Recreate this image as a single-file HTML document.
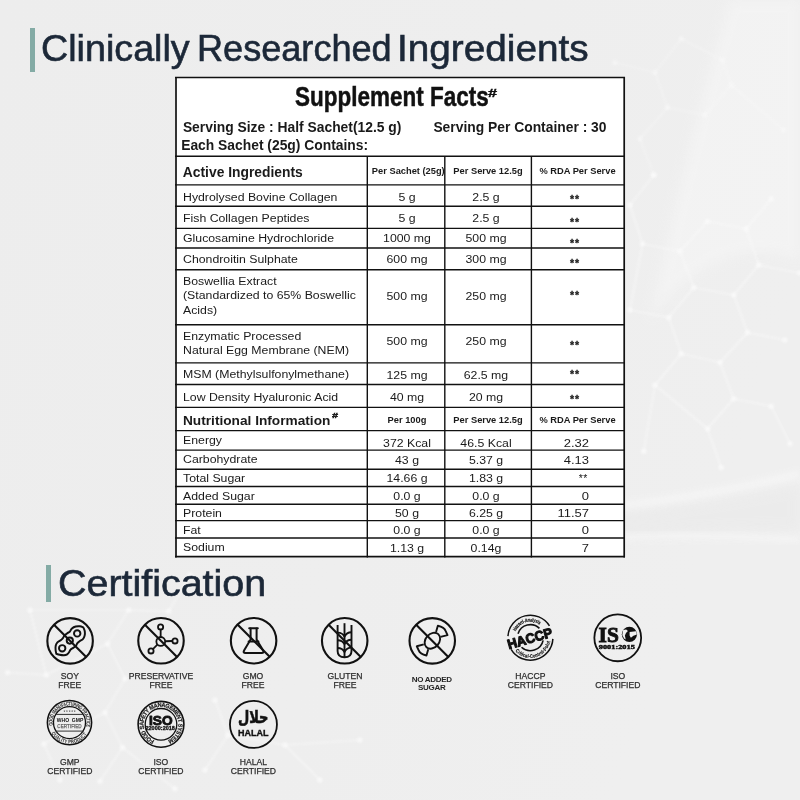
<!DOCTYPE html>
<html><head><meta charset="utf-8"><title>Clinically Researched Ingredients</title>
<style>
html,body{margin:0;padding:0;}
body{width:800px;height:800px;overflow:hidden;position:relative;background:#eeeeee;font-family:"Liberation Sans", Arial, Helvetica, sans-serif;}
.t{position:absolute;white-space:nowrap;line-height:1;}
.t sup{font-size:0.55em;vertical-align:0;position:relative;top:-0.75em;margin-left:1px;}
.l{position:absolute;}
.bar{position:absolute;width:5px;background:#84aba5;}
svg{position:absolute;left:0;top:0;}
</style></head>
<body>
<svg width="800" height="800" viewBox="0 0 800 800" style="position:absolute;left:0;top:0">
<defs><linearGradient id="bgd" x1="0" y1="0" x2="1" y2="0.35"><stop offset="0" stop-color="#ededed"/><stop offset="0.6" stop-color="#eeeeee"/><stop offset="1" stop-color="#efefef"/></linearGradient><filter id="bl" x="-50%" y="-50%" width="200%" height="200%"><feGaussianBlur stdDeviation="0.8"/></filter><filter id="bl3" x="-20%" y="-100%" width="140%" height="300%"><feGaussianBlur stdDeviation="3"/></filter><filter id="bl2" x="-20%" y="-50%" width="140%" height="200%"><feGaussianBlur stdDeviation="6"/></filter></defs>
<rect width="800" height="800" fill="url(#bgd)"/>
<path d="M730 0 L800 0 L800 260 Q720 230 650 320 Q690 130 730 0 Z" fill="#f4f4f4" opacity="0.8" filter="url(#bl2)"/>
<path d="M600 515 Q700 505 800 485 L800 530 Q700 530 600 538 Z" fill="#e9e9e9" opacity="0.6" filter="url(#bl2)"/>
<path d="M600 508 Q700 498 800 474" stroke="#f6f6f6" stroke-width="7" fill="none" opacity="0.9" filter="url(#bl3)"/>
<path d="M600 538 Q700 533 800 540" stroke="#f5f5f5" stroke-width="6" fill="none" opacity="0.9" filter="url(#bl3)"/>
<g stroke="#fafafa" stroke-width="1.2" opacity="0.45" filter="url(#bl)" fill="none"><line x1="681.25" y1="38.75" x2="722.5" y2="60"/><line x1="681.25" y1="38.75" x2="655" y2="72.5"/><line x1="655" y1="72.5" x2="667.5" y2="107.5"/><line x1="667.5" y1="107.5" x2="705" y2="115"/><line x1="667.5" y1="107.5" x2="640" y2="138.75"/><line x1="640" y1="138.75" x2="653.75" y2="175"/><line x1="705" y1="115" x2="731.25" y2="85"/><line x1="731.25" y1="85" x2="722.5" y2="60"/><line x1="731.25" y1="85" x2="783.75" y2="130"/><line x1="655" y1="72.5" x2="615" y2="62.5"/></g>
<g fill="#fbfbfb" opacity="0.45" filter="url(#bl)"><circle cx="681.25" cy="38.75" r="2.6"/><circle cx="722.5" cy="60" r="2.6"/><circle cx="655" cy="72.5" r="2.6"/><circle cx="667.5" cy="107.5" r="2.6"/><circle cx="705" cy="115" r="2.6"/><circle cx="640" cy="138.75" r="2.6"/><circle cx="653.75" cy="175" r="2.6"/><circle cx="731.25" cy="85" r="2.6"/><circle cx="783.75" cy="130" r="2.6"/><circle cx="615" cy="62.5" r="2.6"/></g>
<g stroke="#fafafa" stroke-width="1.2" opacity="0.75" filter="url(#bl)" fill="none"><line x1="653.75" y1="175" x2="630" y2="205"/><line x1="630" y1="205" x2="642.5" y2="243.75"/><line x1="642.5" y1="243.75" x2="680" y2="251.25"/><line x1="680" y1="251.25" x2="707.5" y2="221.25"/><line x1="707.5" y1="221.25" x2="746.25" y2="228.75"/><line x1="746.25" y1="228.75" x2="758.75" y2="265"/><line x1="758.75" y1="265" x2="733.75" y2="295"/><line x1="733.75" y1="295" x2="693.75" y2="287.5"/><line x1="693.75" y1="287.5" x2="680" y2="251.25"/><line x1="693.75" y1="287.5" x2="668.75" y2="317.5"/><line x1="668.75" y1="317.5" x2="630" y2="310"/><line x1="733.75" y1="295" x2="747.5" y2="332.5"/><line x1="747.5" y1="332.5" x2="785" y2="340"/><line x1="758.75" y1="265" x2="800" y2="273"/><line x1="771.25" y1="198.75" x2="746.25" y2="228.75"/><line x1="668.75" y1="317.5" x2="681.25" y2="353.75"/><line x1="747.5" y1="332.5" x2="720" y2="362.5"/><line x1="681.25" y1="353.75" x2="720" y2="362.5"/><line x1="681.25" y1="353.75" x2="655" y2="385"/><line x1="720" y1="362.5" x2="733.75" y2="398.75"/><line x1="733.75" y1="398.75" x2="771.25" y2="406.25"/><line x1="733.75" y1="398.75" x2="707.5" y2="428.75"/><line x1="707.5" y1="428.75" x2="721.25" y2="467.5"/><line x1="655" y1="385" x2="643.75" y2="451.25"/><line x1="771.25" y1="406.25" x2="790" y2="443.75"/><line x1="707.5" y1="428.75" x2="655" y2="385"/><line x1="642.5" y1="243.75" x2="630" y2="310"/><line x1="128.75" y1="610" x2="107.5" y2="643.75"/><line x1="107.5" y1="643.75" x2="125" y2="678.75"/><line x1="125" y1="678.75" x2="105" y2="712.5"/><line x1="105" y1="712.5" x2="122.5" y2="747.5"/><line x1="122.5" y1="747.5" x2="100" y2="781.25"/><line x1="46.25" y1="675" x2="7.5" y2="672.5"/><line x1="128.75" y1="610" x2="168.75" y2="611.25"/><line x1="43.75" y1="743.75" x2="60" y2="780"/><line x1="46.25" y1="675" x2="107.5" y2="643.75"/><line x1="105" y1="712.5" x2="43.75" y2="743.75"/><line x1="122.5" y1="747.5" x2="175" y2="788.75"/><line x1="190" y1="575" x2="168.75" y2="611.25"/><line x1="30" y1="610" x2="46.25" y2="675"/><line x1="30" y1="610" x2="128.75" y2="610"/><line x1="215" y1="700" x2="228" y2="735"/><line x1="228" y1="735" x2="205" y2="770"/><line x1="228" y1="735" x2="285" y2="745"/><line x1="285" y1="745" x2="320" y2="780"/><line x1="285" y1="745" x2="360" y2="740"/></g>
<g fill="#fbfbfb" opacity="0.75" filter="url(#bl)"><circle cx="653.75" cy="175" r="2.6"/><circle cx="630" cy="205" r="2.6"/><circle cx="642.5" cy="243.75" r="2.6"/><circle cx="680" cy="251.25" r="2.6"/><circle cx="707.5" cy="221.25" r="2.6"/><circle cx="746.25" cy="228.75" r="2.6"/><circle cx="758.75" cy="265" r="2.6"/><circle cx="733.75" cy="295" r="2.6"/><circle cx="693.75" cy="287.5" r="2.6"/><circle cx="668.75" cy="317.5" r="2.6"/><circle cx="630" cy="310" r="2.6"/><circle cx="747.5" cy="332.5" r="2.6"/><circle cx="785" cy="340" r="2.6"/><circle cx="800" cy="273" r="2.6"/><circle cx="771.25" cy="198.75" r="2.6"/><circle cx="681.25" cy="353.75" r="2.6"/><circle cx="720" cy="362.5" r="2.6"/><circle cx="655" cy="385" r="2.6"/><circle cx="733.75" cy="398.75" r="2.6"/><circle cx="771.25" cy="406.25" r="2.6"/><circle cx="707.5" cy="428.75" r="2.6"/><circle cx="721.25" cy="467.5" r="2.6"/><circle cx="643.75" cy="451.25" r="2.6"/><circle cx="790" cy="443.75" r="2.6"/><circle cx="128.75" cy="610" r="2.6"/><circle cx="107.5" cy="643.75" r="2.6"/><circle cx="125" cy="678.75" r="2.6"/><circle cx="105" cy="712.5" r="2.6"/><circle cx="122.5" cy="747.5" r="2.6"/><circle cx="100" cy="781.25" r="2.6"/><circle cx="46.25" cy="675" r="2.6"/><circle cx="7.5" cy="672.5" r="2.6"/><circle cx="168.75" cy="611.25" r="2.6"/><circle cx="43.75" cy="743.75" r="2.6"/><circle cx="60" cy="780" r="2.6"/><circle cx="175" cy="788.75" r="2.6"/><circle cx="190" cy="575" r="2.6"/><circle cx="30" cy="610" r="2.6"/><circle cx="215" cy="700" r="2.6"/><circle cx="228" cy="735" r="2.6"/><circle cx="205" cy="770" r="2.6"/><circle cx="285" cy="745" r="2.6"/><circle cx="320" cy="780" r="2.6"/><circle cx="360" cy="740" r="2.6"/></g>
</svg>
<div class="bar" style="left:29.5px;top:28px;height:44px"></div>
<div class="bar" style="left:46.3px;top:565px;height:37px"></div>

<div class="t" style="left:40.90px;top:30.83px;font-size:36px;font-weight:400;color:#1c2838;-webkit-text-stroke:0.6px #1c2838;transform:scaleX(1.047);transform-origin:0 0;">Clinically</div>
<div class="t" style="left:197.20px;top:30.83px;font-size:36px;font-weight:400;color:#1c2838;-webkit-text-stroke:0.6px #1c2838;transform:scaleX(1.003);transform-origin:0 0;">Researched</div>
<div class="t" style="left:396.70px;top:30.83px;font-size:36px;font-weight:400;color:#1c2838;-webkit-text-stroke:0.6px #1c2838;transform:scaleX(1.076);transform-origin:0 0;">Ingredients</div>
<div class="t" style="left:58.00px;top:565.53px;font-size:36px;font-weight:400;color:#1c2838;-webkit-text-stroke:0.6px #1c2838;transform:scaleX(1.095);transform-origin:0 0;">Certification</div>
<div class="l" style="left:175px;top:77px;width:450px;height:480.6px;background:#fff"></div>
<svg width="800" height="800" viewBox="0 0 800 800" style="position:absolute;left:0;top:0"><line x1="175" y1="77.5" x2="625" y2="77.5" stroke="#111" stroke-width="1.7"/><line x1="175" y1="556.7" x2="625" y2="556.7" stroke="#111" stroke-width="1.8"/><line x1="176.0" y1="77" x2="176.0" y2="557.6" stroke="#111" stroke-width="1.7"/><line x1="624.2" y1="77" x2="624.2" y2="557.6" stroke="#111" stroke-width="1.7"/><line x1="175" y1="156.3" x2="625" y2="156.3" stroke="#111" stroke-width="1.4"/><line x1="175" y1="184.85" x2="625" y2="184.85" stroke="#111" stroke-width="1.4"/><line x1="175" y1="206.3" x2="625" y2="206.3" stroke="#111" stroke-width="1.4"/><line x1="175" y1="228.35" x2="625" y2="228.35" stroke="#111" stroke-width="1.4"/><line x1="175" y1="248.0" x2="625" y2="248.0" stroke="#111" stroke-width="1.4"/><line x1="175" y1="269.75" x2="625" y2="269.75" stroke="#111" stroke-width="1.4"/><line x1="175" y1="324.75" x2="625" y2="324.75" stroke="#111" stroke-width="1.4"/><line x1="175" y1="362.85" x2="625" y2="362.85" stroke="#111" stroke-width="1.4"/><line x1="175" y1="384.5" x2="625" y2="384.5" stroke="#111" stroke-width="1.4"/><line x1="175" y1="407.4" x2="625" y2="407.4" stroke="#111" stroke-width="1.4"/><line x1="175" y1="430.65" x2="625" y2="430.65" stroke="#111" stroke-width="1.4"/><line x1="175" y1="450.1" x2="625" y2="450.1" stroke="#111" stroke-width="1.4"/><line x1="175" y1="469.2" x2="625" y2="469.2" stroke="#111" stroke-width="1.4"/><line x1="175" y1="486.5" x2="625" y2="486.5" stroke="#111" stroke-width="1.4"/><line x1="175" y1="504.2" x2="625" y2="504.2" stroke="#111" stroke-width="1.4"/><line x1="175" y1="520.6" x2="625" y2="520.6" stroke="#111" stroke-width="1.4"/><line x1="175" y1="537.95" x2="625" y2="537.95" stroke="#111" stroke-width="1.4"/><line x1="367.3" y1="156" x2="367.3" y2="557.6" stroke="#111" stroke-width="1.4"/><line x1="444.8" y1="156" x2="444.8" y2="557.6" stroke="#111" stroke-width="1.4"/><line x1="531.4" y1="156" x2="531.4" y2="557.6" stroke="#111" stroke-width="1.4"/></svg>
<div class="t" style="left:294.60px;top:82.87px;font-size:27.8px;font-weight:700;color:#111;transform:scaleX(0.809);transform-origin:0 0;-webkit-text-stroke:0.5px #111;">Supplement Facts</div>
<div class="t" style="left:488.30px;top:87.91px;font-size:10.5px;font-weight:700;color:#111;-webkit-text-stroke:0.4px #111;transform:scaleX(1.55);transform-origin:0 0;">#</div>
<div class="t" style="left:182.90px;top:120.88px;font-size:13.85px;font-weight:700;color:#1a1a1a;">Serving Size : Half Sachet(12.5 g)</div>
<div class="t" style="left:433.40px;top:120.88px;font-size:13.85px;font-weight:700;color:#1a1a1a;">Serving Per Container : 30</div>
<div class="t" style="left:181.20px;top:139.08px;font-size:13.85px;font-weight:700;color:#1a1a1a;">Each Sachet (25g) Contains:</div>
<div class="t" style="left:182.80px;top:165.88px;font-size:13.85px;font-weight:700;color:#1a1a1a;">Active Ingredients</div>
<div class="t" style="left:363.30px;width:90px;text-align:center;top:166.53px;font-size:9.3px;font-weight:700;color:#1a1a1a;">Per Sachet (25g)</div>
<div class="t" style="left:443.00px;width:90px;text-align:center;top:166.53px;font-size:9.3px;font-weight:700;color:#1a1a1a;">Per Serve 12.5g</div>
<div class="t" style="left:532.50px;width:90px;text-align:center;top:166.53px;font-size:9.3px;font-weight:700;color:#1a1a1a;">% RDA Per Serve</div>
<div class="t" style="left:183.30px;top:191.20px;font-size:11.7px;font-weight:400;color:#1a1a1a;transform:scaleX(1.052);transform-origin:0 0;">Hydrolysed Bovine Collagen</div>
<div class="t" style="left:367.00px;width:80px;text-align:center;top:191.40px;font-size:11.7px;font-weight:400;color:#1a1a1a;transform:scaleX(1.052);transform-origin:50% 0;">5 g</div>
<div class="t" style="left:446.00px;width:80px;text-align:center;top:191.40px;font-size:11.7px;font-weight:400;color:#1a1a1a;transform:scaleX(1.052);transform-origin:50% 0;">2.5 g</div>
<div class="t" style="left:554.50px;width:40px;text-align:center;top:193.91px;font-size:10.5px;font-weight:700;color:#1a1a1a;-webkit-text-stroke:0.3px #1a1a1a;letter-spacing:0.9px;text-indent:0.9px;">**</div>
<div class="t" style="left:183.30px;top:211.70px;font-size:11.7px;font-weight:400;color:#1a1a1a;transform:scaleX(1.052);transform-origin:0 0;">Fish Collagen Peptides</div>
<div class="t" style="left:367.00px;width:80px;text-align:center;top:212.10px;font-size:11.7px;font-weight:400;color:#1a1a1a;transform:scaleX(1.052);transform-origin:50% 0;">5 g</div>
<div class="t" style="left:446.00px;width:80px;text-align:center;top:212.10px;font-size:11.7px;font-weight:400;color:#1a1a1a;transform:scaleX(1.052);transform-origin:50% 0;">2.5 g</div>
<div class="t" style="left:554.50px;width:40px;text-align:center;top:217.31px;font-size:10.5px;font-weight:700;color:#1a1a1a;-webkit-text-stroke:0.3px #1a1a1a;letter-spacing:0.9px;text-indent:0.9px;">**</div>
<div class="t" style="left:183.30px;top:232.20px;font-size:11.7px;font-weight:400;color:#1a1a1a;transform:scaleX(1.052);transform-origin:0 0;">Glucosamine Hydrochloride</div>
<div class="t" style="left:367.00px;width:80px;text-align:center;top:232.20px;font-size:11.7px;font-weight:400;color:#1a1a1a;transform:scaleX(1.052);transform-origin:50% 0;">1000 mg</div>
<div class="t" style="left:446.00px;width:80px;text-align:center;top:232.20px;font-size:11.7px;font-weight:400;color:#1a1a1a;transform:scaleX(1.052);transform-origin:50% 0;">500 mg</div>
<div class="t" style="left:554.50px;width:40px;text-align:center;top:237.81px;font-size:10.5px;font-weight:700;color:#1a1a1a;-webkit-text-stroke:0.3px #1a1a1a;letter-spacing:0.9px;text-indent:0.9px;">**</div>
<div class="t" style="left:183.30px;top:252.85px;font-size:11.7px;font-weight:400;color:#1a1a1a;transform:scaleX(1.052);transform-origin:0 0;">Chondroitin Sulphate</div>
<div class="t" style="left:367.00px;width:80px;text-align:center;top:253.00px;font-size:11.7px;font-weight:400;color:#1a1a1a;transform:scaleX(1.052);transform-origin:50% 0;">600 mg</div>
<div class="t" style="left:446.00px;width:80px;text-align:center;top:253.00px;font-size:11.7px;font-weight:400;color:#1a1a1a;transform:scaleX(1.052);transform-origin:50% 0;">300 mg</div>
<div class="t" style="left:554.50px;width:40px;text-align:center;top:258.21px;font-size:10.5px;font-weight:700;color:#1a1a1a;-webkit-text-stroke:0.3px #1a1a1a;letter-spacing:0.9px;text-indent:0.9px;">**</div>
<div class="t" style="left:183.30px;top:274.85px;font-size:11.7px;font-weight:400;color:#1a1a1a;transform:scaleX(1.052);transform-origin:0 0;">Boswellia Extract</div>
<div class="t" style="left:183.30px;top:289.30px;font-size:11.7px;font-weight:400;color:#1a1a1a;transform:scaleX(1.052);transform-origin:0 0;">(Standardized to 65% Boswellic</div>
<div class="t" style="left:183.30px;top:303.60px;font-size:11.7px;font-weight:400;color:#1a1a1a;transform:scaleX(1.052);transform-origin:0 0;">Acids)</div>
<div class="t" style="left:367.00px;width:80px;text-align:center;top:289.90px;font-size:11.7px;font-weight:400;color:#1a1a1a;transform:scaleX(1.052);transform-origin:50% 0;">500 mg</div>
<div class="t" style="left:446.00px;width:80px;text-align:center;top:289.90px;font-size:11.7px;font-weight:400;color:#1a1a1a;transform:scaleX(1.052);transform-origin:50% 0;">250 mg</div>
<div class="t" style="left:554.50px;width:40px;text-align:center;top:290.21px;font-size:10.5px;font-weight:700;color:#1a1a1a;-webkit-text-stroke:0.3px #1a1a1a;letter-spacing:0.9px;text-indent:0.9px;">**</div>
<div class="t" style="left:183.30px;top:329.50px;font-size:11.7px;font-weight:400;color:#1a1a1a;transform:scaleX(1.052);transform-origin:0 0;">Enzymatic Processed</div>
<div class="t" style="left:183.30px;top:343.85px;font-size:11.7px;font-weight:400;color:#1a1a1a;transform:scaleX(1.052);transform-origin:0 0;">Natural Egg Membrane (NEM)</div>
<div class="t" style="left:367.00px;width:80px;text-align:center;top:335.10px;font-size:11.7px;font-weight:400;color:#1a1a1a;transform:scaleX(1.052);transform-origin:50% 0;">500 mg</div>
<div class="t" style="left:446.00px;width:80px;text-align:center;top:335.10px;font-size:11.7px;font-weight:400;color:#1a1a1a;transform:scaleX(1.052);transform-origin:50% 0;">250 mg</div>
<div class="t" style="left:554.50px;width:40px;text-align:center;top:339.81px;font-size:10.5px;font-weight:700;color:#1a1a1a;-webkit-text-stroke:0.3px #1a1a1a;letter-spacing:0.9px;text-indent:0.9px;">**</div>
<div class="t" style="left:183.30px;top:368.20px;font-size:11.7px;font-weight:400;color:#1a1a1a;transform:scaleX(1.052);transform-origin:0 0;">MSM (Methylsulfonylmethane)</div>
<div class="t" style="left:367.00px;width:80px;text-align:center;top:368.90px;font-size:11.7px;font-weight:400;color:#1a1a1a;transform:scaleX(1.052);transform-origin:50% 0;">125 mg</div>
<div class="t" style="left:446.00px;width:80px;text-align:center;top:368.90px;font-size:11.7px;font-weight:400;color:#1a1a1a;transform:scaleX(1.052);transform-origin:50% 0;">62.5 mg</div>
<div class="t" style="left:554.50px;width:40px;text-align:center;top:369.41px;font-size:10.5px;font-weight:700;color:#1a1a1a;-webkit-text-stroke:0.3px #1a1a1a;letter-spacing:0.9px;text-indent:0.9px;">**</div>
<div class="t" style="left:183.30px;top:391.10px;font-size:11.7px;font-weight:400;color:#1a1a1a;transform:scaleX(1.052);transform-origin:0 0;">Low Density Hyaluronic Acid</div>
<div class="t" style="left:367.00px;width:80px;text-align:center;top:391.10px;font-size:11.7px;font-weight:400;color:#1a1a1a;transform:scaleX(1.052);transform-origin:50% 0;">40 mg</div>
<div class="t" style="left:446.00px;width:80px;text-align:center;top:391.10px;font-size:11.7px;font-weight:400;color:#1a1a1a;transform:scaleX(1.052);transform-origin:50% 0;">20 mg</div>
<div class="t" style="left:554.50px;width:40px;text-align:center;top:393.81px;font-size:10.5px;font-weight:700;color:#1a1a1a;-webkit-text-stroke:0.3px #1a1a1a;letter-spacing:0.9px;text-indent:0.9px;">**</div>
<div class="t" style="left:183.00px;top:413.72px;font-size:13.68px;font-weight:700;color:#1a1a1a;">Nutritional Information</div>
<div class="t" style="left:332.30px;top:412.01px;font-size:7.2px;font-weight:700;color:#1a1a1a;font-style:italic;-webkit-text-stroke:0.45px #1a1a1a;transform:scaleX(1.45);transform-origin:0 0;">#</div>
<div class="t" style="left:362.00px;width:90px;text-align:center;top:415.73px;font-size:9.3px;font-weight:700;color:#1a1a1a;">Per 100g</div>
<div class="t" style="left:443.00px;width:90px;text-align:center;top:415.73px;font-size:9.3px;font-weight:700;color:#1a1a1a;">Per Serve 12.5g</div>
<div class="t" style="left:532.50px;width:90px;text-align:center;top:415.73px;font-size:9.3px;font-weight:700;color:#1a1a1a;">% RDA Per Serve</div>
<div class="t" style="left:183.30px;top:434.00px;font-size:11.7px;font-weight:400;color:#1a1a1a;transform:scaleX(1.052);transform-origin:0 0;">Energy</div>
<div class="t" style="left:367.00px;width:80px;text-align:center;top:437.10px;font-size:11.7px;font-weight:400;color:#1a1a1a;transform:scaleX(1.052);transform-origin:50% 0;">372 Kcal</div>
<div class="t" style="left:446.00px;width:80px;text-align:center;top:437.10px;font-size:11.7px;font-weight:400;color:#1a1a1a;transform:scaleX(1.052);transform-origin:50% 0;">46.5 Kcal</div>
<div class="t" style="left:529.40px;width:60px;text-align:right;top:437.10px;font-size:11.7px;font-weight:400;color:#1a1a1a;transform:scaleX(1.11);transform-origin:100% 0;">2.32</div>
<div class="t" style="left:183.30px;top:453.20px;font-size:11.7px;font-weight:400;color:#1a1a1a;transform:scaleX(1.052);transform-origin:0 0;">Carbohydrate</div>
<div class="t" style="left:367.00px;width:80px;text-align:center;top:454.00px;font-size:11.7px;font-weight:400;color:#1a1a1a;transform:scaleX(1.052);transform-origin:50% 0;">43 g</div>
<div class="t" style="left:446.00px;width:80px;text-align:center;top:454.00px;font-size:11.7px;font-weight:400;color:#1a1a1a;transform:scaleX(1.052);transform-origin:50% 0;">5.37 g</div>
<div class="t" style="left:529.40px;width:60px;text-align:right;top:454.00px;font-size:11.7px;font-weight:400;color:#1a1a1a;transform:scaleX(1.11);transform-origin:100% 0;">4.13</div>
<div class="t" style="left:183.30px;top:472.20px;font-size:11.7px;font-weight:400;color:#1a1a1a;transform:scaleX(1.052);transform-origin:0 0;">Total Sugar</div>
<div class="t" style="left:367.00px;width:80px;text-align:center;top:472.20px;font-size:11.7px;font-weight:400;color:#1a1a1a;transform:scaleX(1.052);transform-origin:50% 0;">14.66 g</div>
<div class="t" style="left:446.00px;width:80px;text-align:center;top:472.20px;font-size:11.7px;font-weight:400;color:#1a1a1a;transform:scaleX(1.052);transform-origin:50% 0;">1.83 g</div>
<div class="t" style="left:528.00px;width:60px;text-align:right;top:473.11px;font-size:10.5px;font-weight:400;color:#1a1a1a;letter-spacing:0.6px;">**</div>
<div class="t" style="left:183.30px;top:490.00px;font-size:11.7px;font-weight:400;color:#1a1a1a;transform:scaleX(1.052);transform-origin:0 0;">Added Sugar</div>
<div class="t" style="left:367.00px;width:80px;text-align:center;top:490.40px;font-size:11.7px;font-weight:400;color:#1a1a1a;transform:scaleX(1.052);transform-origin:50% 0;">0.0 g</div>
<div class="t" style="left:446.00px;width:80px;text-align:center;top:490.40px;font-size:11.7px;font-weight:400;color:#1a1a1a;transform:scaleX(1.052);transform-origin:50% 0;">0.0 g</div>
<div class="t" style="left:529.40px;width:60px;text-align:right;top:490.40px;font-size:11.7px;font-weight:400;color:#1a1a1a;transform:scaleX(1.11);transform-origin:100% 0;">0</div>
<div class="t" style="left:183.30px;top:507.10px;font-size:11.7px;font-weight:400;color:#1a1a1a;transform:scaleX(1.052);transform-origin:0 0;">Protein</div>
<div class="t" style="left:367.00px;width:80px;text-align:center;top:507.10px;font-size:11.7px;font-weight:400;color:#1a1a1a;transform:scaleX(1.052);transform-origin:50% 0;">50 g</div>
<div class="t" style="left:446.00px;width:80px;text-align:center;top:507.10px;font-size:11.7px;font-weight:400;color:#1a1a1a;transform:scaleX(1.052);transform-origin:50% 0;">6.25 g</div>
<div class="t" style="left:529.40px;width:60px;text-align:right;top:507.10px;font-size:11.7px;font-weight:400;color:#1a1a1a;transform:scaleX(1.11);transform-origin:100% 0;">11.57</div>
<div class="t" style="left:183.30px;top:524.10px;font-size:11.7px;font-weight:400;color:#1a1a1a;transform:scaleX(1.052);transform-origin:0 0;">Fat</div>
<div class="t" style="left:367.00px;width:80px;text-align:center;top:524.10px;font-size:11.7px;font-weight:400;color:#1a1a1a;transform:scaleX(1.052);transform-origin:50% 0;">0.0 g</div>
<div class="t" style="left:446.00px;width:80px;text-align:center;top:524.10px;font-size:11.7px;font-weight:400;color:#1a1a1a;transform:scaleX(1.052);transform-origin:50% 0;">0.0 g</div>
<div class="t" style="left:529.40px;width:60px;text-align:right;top:524.10px;font-size:11.7px;font-weight:400;color:#1a1a1a;transform:scaleX(1.11);transform-origin:100% 0;">0</div>
<div class="t" style="left:183.30px;top:541.10px;font-size:11.7px;font-weight:400;color:#1a1a1a;transform:scaleX(1.052);transform-origin:0 0;">Sodium</div>
<div class="t" style="left:367.00px;width:80px;text-align:center;top:542.10px;font-size:11.7px;font-weight:400;color:#1a1a1a;transform:scaleX(1.052);transform-origin:50% 0;">1.13 g</div>
<div class="t" style="left:446.00px;width:80px;text-align:center;top:542.10px;font-size:11.7px;font-weight:400;color:#1a1a1a;transform:scaleX(1.052);transform-origin:50% 0;">0.14g</div>
<div class="t" style="left:529.40px;width:60px;text-align:right;top:542.10px;font-size:11.7px;font-weight:400;color:#1a1a1a;transform:scaleX(1.11);transform-origin:100% 0;">7</div>
<svg width="800" height="800" viewBox="0 0 800 800"><circle cx="70.1" cy="640.9" r="22.75" fill="none" stroke="#111" stroke-width="2.1" />
<g fill="none" stroke="#111" stroke-width="1.95" stroke-linejoin="round"><path d="M83.35 627.46 C83.59 628.13 84.59 630.11 84.80 631.50 C85.01 632.89 84.92 634.52 84.60 635.80 C84.28 637.08 83.74 638.30 82.90 639.20 C82.06 640.10 80.47 640.53 79.55 641.20 C78.63 641.87 78.01 642.43 77.40 643.20 C76.79 643.97 76.65 644.98 75.90 645.80 C75.15 646.62 73.78 647.47 72.90 648.10 C72.02 648.73 71.22 648.95 70.60 649.60 C69.98 650.25 69.77 651.22 69.20 652.00 C68.63 652.78 68.08 653.75 67.20 654.30 C66.32 654.85 65.17 655.22 63.90 655.30 C62.63 655.38 60.87 655.05 59.60 654.80 C58.33 654.55 56.85 653.97 56.30 653.80 L56.30 653.80 C56.18 653.17 55.70 651.34 55.60 650.00 C55.50 648.66 55.40 647.02 55.70 645.75 C56.00 644.48 56.52 643.35 57.40 642.40 C58.28 641.45 60.08 640.76 61.00 640.05 C61.92 639.34 62.27 638.99 62.90 638.15 C63.53 637.31 63.97 635.88 64.80 635.00 C65.63 634.12 67.03 633.52 67.90 632.90 C68.78 632.28 69.38 632.05 70.05 631.30 C70.72 630.55 71.00 629.20 71.95 628.40 C72.90 627.60 74.41 626.85 75.75 626.50 C77.09 626.15 78.73 626.14 80.00 626.30 C81.27 626.46 82.79 627.27 83.35 627.46 Z"/><circle cx="77.2" cy="633.4" r="3.2"/><circle cx="69.8" cy="640.6" r="3.1"/><circle cx="62.2" cy="648.3" r="3.2"/></g>
<line x1="54.01" y1="624.81" x2="86.19" y2="656.99" stroke="#111" stroke-width="2.1"/>
<circle cx="161.0" cy="640.8" r="22.75" fill="none" stroke="#111" stroke-width="2.1" />
<g fill="none" stroke="#111" stroke-width="1.8"><circle cx="160.75" cy="641.4" r="4.4"/><circle cx="160.6" cy="626.9" r="2.6"/><line x1="160.70" y1="637.00" x2="160.63" y2="629.50"/><circle cx="175.0" cy="640.9" r="2.6"/><line x1="165.15" y1="641.25" x2="172.40" y2="640.99"/><circle cx="151.0" cy="650.9" r="2.6"/><line x1="157.60" y1="644.47" x2="152.86" y2="649.09"/></g>
<line x1="144.91" y1="624.71" x2="177.09" y2="656.89" stroke="#111" stroke-width="2.1"/>
<circle cx="253.6" cy="640.7" r="22.75" fill="none" stroke="#111" stroke-width="2.1" />
<g fill="none" stroke="#111" stroke-width="2" stroke-linejoin="round" stroke-linecap="round"><line x1="249.2" y1="628.2" x2="257.8" y2="628.2"/><path d="M250.6 628.5 V639.5 L244.2 650.2 Q242.6 653 245.6 653 H261.6 Q264.6 653 263 650.2 L256.6 639.5 V628.5"/><line x1="248.6" y1="641.6" x2="258.4" y2="641.6"/></g>
<line x1="237.51" y1="624.61" x2="269.69" y2="656.79" stroke="#111" stroke-width="2.1"/>
<circle cx="344.7" cy="640.8" r="22.75" fill="none" stroke="#111" stroke-width="2.1" />
<g fill="none" stroke="#111" stroke-width="1.9" stroke-linejoin="round"><line x1="344.5" y1="623.2" x2="344.5" y2="657"/><path d="M337.6 625 V651 Q337.6 657.3 344.5 657.3 Q351.5 657.3 351.5 651 V625"/><path d="M337.6 632.6 Q342.5 632.6 344.5 636.6 Q346.5 632.2 351.5 632.2"/><path d="M337.6 640.2 Q342.5 640.2 344.5 644.2 Q346.5 639.8 351.5 639.8"/><path d="M337.6 648.0 Q342.5 648.0 344.5 652.0 Q346.5 647.6 351.5 647.6"/></g>
<line x1="328.61" y1="624.71" x2="360.79" y2="656.89" stroke="#111" stroke-width="2.1"/>
<circle cx="432.25" cy="640.85" r="22.75" fill="none" stroke="#111" stroke-width="2.1" />
<g fill="none" stroke="#111" stroke-width="1.9" stroke-linejoin="round"><ellipse cx="0" cy="0" rx="8.8" ry="6.8" transform="translate(432.4 640.7) rotate(-48)"/><path id="cw1" d="M436.05 632.1 L437.85 625.8 C441.6 626.6 444.6 628.2 445.6 630.9 L447.5 635.05 L440.55 636.85"/><path d="M436.05 632.1 L437.85 625.8 C441.6 626.6 444.6 628.2 445.6 630.9 L447.5 635.05 L440.55 636.85" transform="rotate(180 432.15 640.65)"/></g>
<line x1="416.16" y1="624.76" x2="448.34" y2="656.94" stroke="#111" stroke-width="2.1"/>
<path d="M552.87 638.88 A22.5 22.5 0 0 1 511.11 649.29" fill="none" stroke="#111" stroke-width="1.5"/>
<path d="M507.95 636.13 A22.5 22.5 0 0 1 549.48 625.78" fill="none" stroke="#111" stroke-width="1.5"/>
<path d="M518.04 633.68 A13.0 13.0 0 0 1 539.43 628.35" fill="none" stroke="#111" stroke-width="1.6"/>
<path d="M543.12 640.40 A13.0 13.0 0 0 1 521.53 647.21" fill="none" stroke="#111" stroke-width="1.6"/>
<defs><path id="rt1" d="M513.96 630.38 A18.0 18.0 0 0 1 540.47 622.78"/></defs>
<text font-family="Liberation Sans, sans-serif" font-weight="700" font-size="5.2" fill="#111" dominant-baseline="central" stroke="#111" stroke-width="0.15"><textPath href="#rt1" textLength="31.42" lengthAdjust="spacingAndGlyphs">Hazard-Analysis</textPath></text>
<defs><path id="rt2" d="M516.66 649.64 A18.2 18.2 0 0 0 548.27 641.17"/></defs>
<text font-family="Liberation Sans, sans-serif" font-weight="700" font-size="5.2" fill="#111" dominant-baseline="central" stroke="#111" stroke-width="0.15"><textPath href="#rt2" textLength="40.66" lengthAdjust="spacingAndGlyphs">Critical-Control-Point</textPath></text>
<text x="0" y="0" transform="translate(531.2 642.9) rotate(-16)" text-anchor="middle" font-family="Liberation Sans, sans-serif" font-weight="700" font-size="13.5" fill="#111" stroke="#111" stroke-width="1.1" stroke-linejoin="round" textLength="46" lengthAdjust="spacingAndGlyphs">HACCP</text>
<circle cx="617.75" cy="637.85" r="23.4" fill="none" stroke="#111" stroke-width="1.8" />
<text x="598.6" y="641.6" font-family="Liberation Serif, serif" font-weight="700" font-size="21.5" fill="#111" stroke="#111" stroke-width="0.9" textLength="20.2" lengthAdjust="spacingAndGlyphs">IS</text>
<circle cx="629.4" cy="634.3" r="7.6" fill="#111"/>
<path d="M623.2 630.1 L626.2 629.5 L627.9 630.9 L626 633.1 L624.9 635.6 L625.7 639.4 L624.1 638.6 L622.3 635 Z M629.6 632 L635.9 631.2 L636.9 634.5 L633.4 635.8 L630.9 637.8 L629.6 635.5 Z" fill="#f2f2f2"/>
<text x="598.8" y="648.8" font-family="Liberation Serif, serif" font-weight="700" font-size="6.4" fill="#111" stroke="#111" stroke-width="0.5" textLength="36.0" lengthAdjust="spacingAndGlyphs">9001:2015</text>
<circle cx="69.5" cy="722.6" r="22.1" fill="none" stroke="#111" stroke-width="1.6" />
<circle cx="69.5" cy="722.6" r="16.0" fill="none" stroke="#111" stroke-width="1.3" />
<defs><path id="rt3" d="M50.73 725.57 A19.0 19.0 0 1 1 88.08 726.55"/></defs>
<text font-family="Liberation Sans, sans-serif" font-weight="700" font-size="5.4" fill="#2a2a2a" dominant-baseline="central" ><textPath href="#rt3" textLength="66.65" lengthAdjust="spacingAndGlyphs">GOOD MANUFACTURING PRACTICE</textPath></text>
<defs><path id="rt4" d="M53.05 732.10 A19.0 19.0 0 0 0 85.25 733.22"/></defs>
<text font-family="Liberation Sans, sans-serif" font-weight="700" font-size="5.4" fill="#2a2a2a" dominant-baseline="central" ><textPath href="#rt4" textLength="38.47" lengthAdjust="spacingAndGlyphs">QUALITY PRODUCT</textPath></text>
<line x1="55.8" y1="714.4" x2="83.6" y2="714.4" stroke="#333" stroke-width="1"/>
<line x1="55.8" y1="731.1" x2="83.6" y2="731.1" stroke="#333" stroke-width="1"/>
<text x="56.8" y="722.0" font-family="Liberation Sans, sans-serif" font-weight="700" font-size="6" fill="#111" textLength="26.5" lengthAdjust="spacingAndGlyphs">WHO&#160;&#160;GMP</text>
<text x="57.3" y="728.2" font-family="Liberation Sans, sans-serif" font-weight="400" font-size="5.8" fill="#777" stroke="#555" stroke-width="0.25" textLength="24.4" lengthAdjust="spacingAndGlyphs">CERTIFIED</text>
<text x="63.3" y="712.0" font-family="DejaVu Sans, sans-serif" font-size="2.6" fill="#333" textLength="12.6" lengthAdjust="spacing">★★★★★</text>
<circle cx="161.0" cy="724.3" r="22.9" fill="none" stroke="#111" stroke-width="1.6" />
<circle cx="161.0" cy="724.3" r="15.8" fill="none" stroke="#111" stroke-width="1.3" />
<defs><path id="rt5" d="M153.42 742.16 A19.4 19.4 0 1 1 169.50 741.74"/></defs>
<text font-family="Liberation Sans, sans-serif" font-weight="700" font-size="6.0" fill="#1a1a1a" dominant-baseline="central" stroke="#1a1a1a" stroke-width="0.2"><textPath href="#rt5" textLength="105.30" lengthAdjust="spacingAndGlyphs">FOOD SAFETY MANAGEMENT SYSTEM</textPath></text>
<text x="149" y="724.7" font-family="Liberation Sans, sans-serif" font-weight="700" font-size="12" fill="#111" stroke="#111" stroke-width="0.8" stroke-linejoin="round" textLength="23.6" lengthAdjust="spacingAndGlyphs">ISO</text>
<text x="145.5" y="729.9" font-family="Liberation Sans, sans-serif" font-weight="700" font-size="5.5" fill="#111" stroke="#111" stroke-width="0.3" textLength="29.4" lengthAdjust="spacingAndGlyphs">22000:2018</text>
<circle cx="253.45" cy="724.4" r="23.5" fill="none" stroke="#111" stroke-width="1.8" />
<text x="253.2" y="722.6" text-anchor="middle" font-family="DejaVu Sans, sans-serif" font-weight="700" font-size="17" fill="#111" stroke="#111" stroke-width="0.6" textLength="30.5" lengthAdjust="spacingAndGlyphs">حلال</text>
<text x="238" y="735.9" font-family="Liberation Sans, sans-serif" font-weight="700" font-size="9" fill="#111" stroke="#111" stroke-width="0.35" textLength="30.5" lengthAdjust="spacingAndGlyphs">HALAL</text></svg>
<div class="t" style="left:19.80px;width:100px;text-align:center;top:672.12px;font-size:8.6px;font-weight:400;color:#2e2e2e;-webkit-text-stroke:0.25px #2e2e2e;">SOY</div>
<div class="t" style="left:19.80px;width:100px;text-align:center;top:681.42px;font-size:8.6px;font-weight:400;color:#2e2e2e;-webkit-text-stroke:0.25px #2e2e2e;">FREE</div>
<div class="t" style="left:111.00px;width:100px;text-align:center;top:672.12px;font-size:8.6px;font-weight:400;color:#2e2e2e;-webkit-text-stroke:0.25px #2e2e2e;">PRESERVATIVE</div>
<div class="t" style="left:111.00px;width:100px;text-align:center;top:681.42px;font-size:8.6px;font-weight:400;color:#2e2e2e;-webkit-text-stroke:0.25px #2e2e2e;">FREE</div>
<div class="t" style="left:203.00px;width:100px;text-align:center;top:672.12px;font-size:8.6px;font-weight:400;color:#2e2e2e;-webkit-text-stroke:0.25px #2e2e2e;">GMO</div>
<div class="t" style="left:203.00px;width:100px;text-align:center;top:681.42px;font-size:8.6px;font-weight:400;color:#2e2e2e;-webkit-text-stroke:0.25px #2e2e2e;">FREE</div>
<div class="t" style="left:295.00px;width:100px;text-align:center;top:672.12px;font-size:8.6px;font-weight:400;color:#2e2e2e;-webkit-text-stroke:0.25px #2e2e2e;">GLUTEN</div>
<div class="t" style="left:295.00px;width:100px;text-align:center;top:681.42px;font-size:8.6px;font-weight:400;color:#2e2e2e;-webkit-text-stroke:0.25px #2e2e2e;">FREE</div>
<div class="t" style="left:381.70px;width:100px;text-align:center;top:675.53px;font-size:8.0px;font-weight:700;color:#262626;letter-spacing:-0.3px;">NO ADDED</div>
<div class="t" style="left:381.70px;width:100px;text-align:center;top:684.33px;font-size:8.0px;font-weight:700;color:#262626;letter-spacing:-0.3px;">SUGAR</div>
<div class="t" style="left:480.40px;width:100px;text-align:center;top:671.72px;font-size:8.6px;font-weight:400;color:#2e2e2e;-webkit-text-stroke:0.25px #2e2e2e;">HACCP</div>
<div class="t" style="left:480.40px;width:100px;text-align:center;top:681.02px;font-size:8.6px;font-weight:400;color:#2e2e2e;-webkit-text-stroke:0.25px #2e2e2e;">CERTIFIED</div>
<div class="t" style="left:567.80px;width:100px;text-align:center;top:671.72px;font-size:8.6px;font-weight:400;color:#2e2e2e;-webkit-text-stroke:0.25px #2e2e2e;">ISO</div>
<div class="t" style="left:567.80px;width:100px;text-align:center;top:681.02px;font-size:8.6px;font-weight:400;color:#2e2e2e;-webkit-text-stroke:0.25px #2e2e2e;">CERTIFIED</div>
<div class="t" style="left:19.80px;width:100px;text-align:center;top:757.72px;font-size:8.6px;font-weight:400;color:#2e2e2e;-webkit-text-stroke:0.25px #2e2e2e;">GMP</div>
<div class="t" style="left:19.80px;width:100px;text-align:center;top:767.32px;font-size:8.6px;font-weight:400;color:#2e2e2e;-webkit-text-stroke:0.25px #2e2e2e;">CERTIFIED</div>
<div class="t" style="left:110.80px;width:100px;text-align:center;top:757.72px;font-size:8.6px;font-weight:400;color:#2e2e2e;-webkit-text-stroke:0.25px #2e2e2e;">ISO</div>
<div class="t" style="left:110.80px;width:100px;text-align:center;top:767.32px;font-size:8.6px;font-weight:400;color:#2e2e2e;-webkit-text-stroke:0.25px #2e2e2e;">CERTIFIED</div>
<div class="t" style="left:203.40px;width:100px;text-align:center;top:757.72px;font-size:8.6px;font-weight:400;color:#2e2e2e;-webkit-text-stroke:0.25px #2e2e2e;">HALAL</div>
<div class="t" style="left:203.40px;width:100px;text-align:center;top:767.32px;font-size:8.6px;font-weight:400;color:#2e2e2e;-webkit-text-stroke:0.25px #2e2e2e;">CERTIFIED</div>
</body></html>
